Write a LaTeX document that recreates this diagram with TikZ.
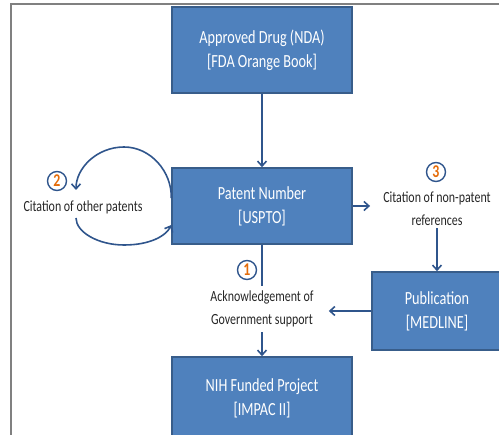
\documentclass[tikz,border=0pt]{standalone}
\usepackage{fontspec}
\setmainfont{Carlito}[FakeStretch=0.77]
\usetikzlibrary{arrows.meta}
\definecolor{boxfill}{RGB}{79,129,189}
\definecolor{boxline}{RGB}{56,93,138}
\definecolor{linkblue}{RGB}{47,85,140}
\definecolor{numorange}{RGB}{228,108,10}
\definecolor{labeltext}{RGB}{38,38,38}
\definecolor{framegray}{RGB}{128,128,128}

\begin{document}
\begin{tikzpicture}[x=1pt,y=-1pt,
  dbox/.style={draw=boxline, fill=boxfill, line width=1.5pt, text=white,
    align=center, font=\fontsize{18.5}{24}\selectfont, inner sep=0pt},
  lbl/.style={text=labeltext, align=center, font=\fontsize{15.5}{23}\selectfont, inner sep=2pt},
  num/.style={circle, draw=linkblue, line width=1.4pt, minimum size=19pt, inner sep=0pt,
    text=numorange, font=\fontsize{18}{18}\selectfont\bfseries},
  link/.style={draw=linkblue, line width=1.6pt},
  arr/.style={link, -{Straight Barb[length=5pt,width=9pt]}}]

  \useasboundingbox (0,0) rectangle (499,435);
  \clip (0,0) rectangle (499,435);

  % slide frame
  \draw[framegray, line width=2.5pt] (11,437) -- (11,4) -- (499,4);

  % data sources
  \node[dbox, minimum width=180pt, minimum height=86pt] (drug) at (262,50) {Approved Drug (NDA)\\{}[FDA Orange Book]};
  \node[dbox, minimum width=180pt, minimum height=76pt] (patent) at (262,206) {Patent Number\\{}[USPTO]};
  \node[dbox, minimum width=130pt, minimum height=78pt] (pub) at (437,311) {Publication\\{}[MEDLINE]};
  \node[dbox, minimum width=180pt, minimum height=82pt] (nih) at (262,398) {NIH Funded Project\\{}[IMPAC II]};

  % link labels
  \node[lbl, inner ysep=5pt] (ack) at (262,309) {Acknowledgement of\\Government support};
  \node[lbl] (nonpat) at (437,209) {Citation of non-patent\\references};
  \node[lbl] (other) at (83,207) {Citation of other patents};
  \node[num] (n1) at (247,270) {1};
  \node[num] (n2) at (57,181) {2};
  \node[num] (n3) at (436,172) {3};

  % connectors
  \draw[arr] (drug) -- (patent);
  \draw[link] (patent) -- (ack);
  \draw[arr] (ack) -- (nih);
  \draw[arr, shorten >=11pt] (patent.east) -- (nonpat.west |- patent.east);
  \draw[arr] (nonpat) -- (pub);
  \draw[arr, shorten >=13pt] (pub.west) -- (ack.east |- pub.west);

  % self loop round the label
  \coordinate (loopT) at (76,190);
  \coordinate (loopB) at (76,218);
  \draw[arr] ([yshift=8pt]patent.west) .. controls (172,172) and (151,147) .. (124,147)
    .. controls (97,147) and (76,168) .. (loopT);
  \draw[arr] (loopB) .. controls (76,232) and (98,245) .. (124,245)
    .. controls (150,245) and (166,236) .. ([yshift=-19pt]patent.west);

\end{tikzpicture}
\end{document}
